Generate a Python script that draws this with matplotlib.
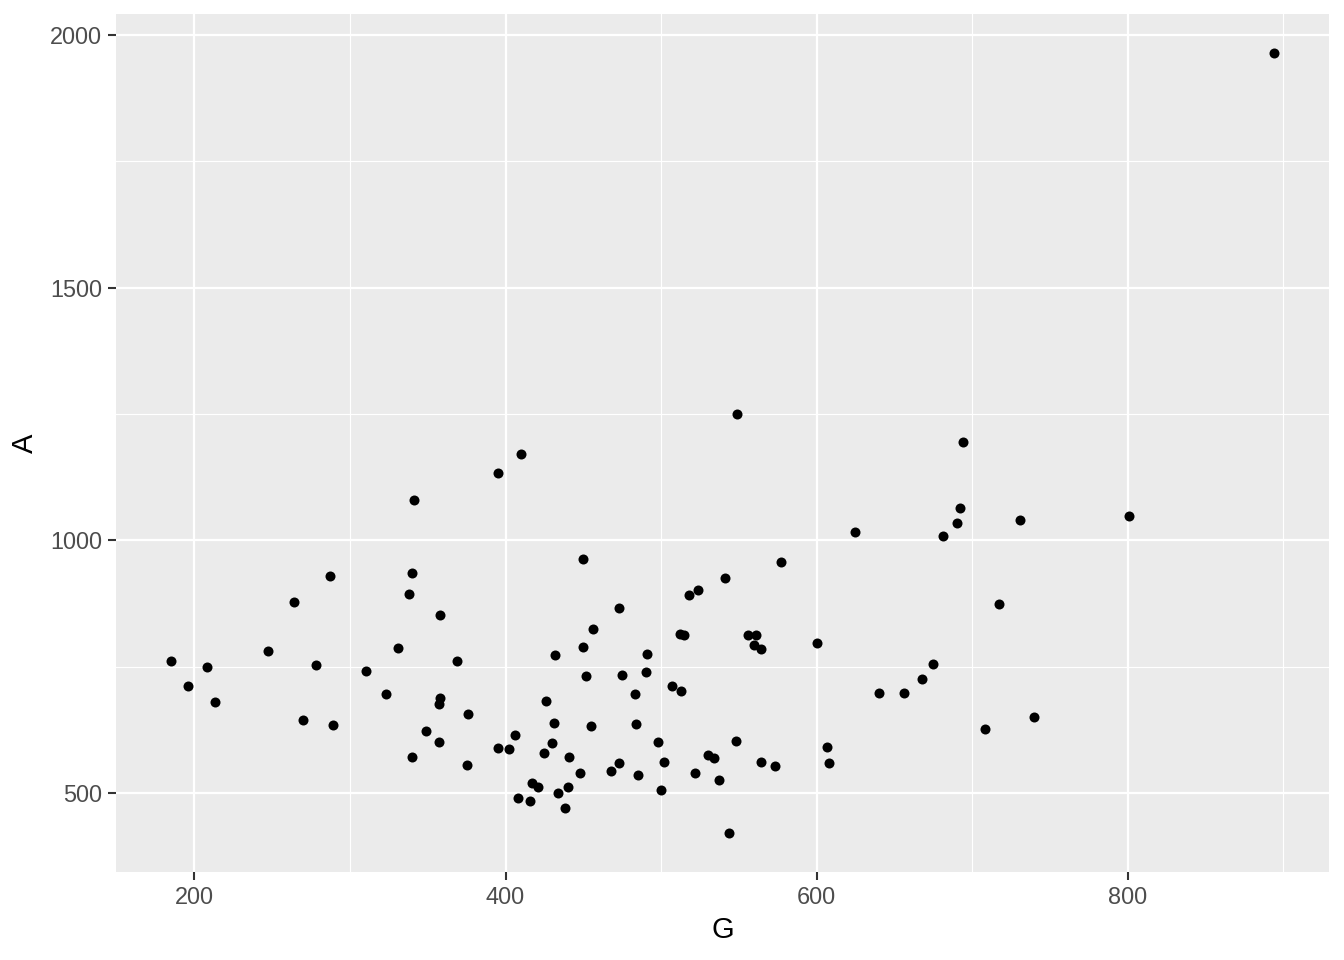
import matplotlib
matplotlib.use('Agg')
import matplotlib.pyplot as plt
import numpy as np

# datos
G = [185, 196, 208, 213, 247, 264, 270, 278, 287, 289,
     310, 323, 331, 341, 340, 338, 358, 369, 358, 357,
     376, 349, 357, 340, 375, 395, 395, 410, 549, 450,
     577, 541, 524, 518, 473, 456, 512, 515, 556, 561,
     560, 564, 600, 450, 432, 491, 452, 475, 490, 507,
     513, 483, 426, 431, 455, 484, 406, 402, 430, 425,
     498, 548, 441, 530, 534, 607, 608, 502, 564, 573,
     473, 468, 485, 448, 522, 537, 417, 421, 440, 434,
     408, 416, 500, 438, 544, 694, 692, 690, 681, 625,
     731, 801, 717, 675, 668, 640, 656, 740, 708, 894]
A = [762, 712, 749, 681, 781, 877, 644, 754, 929, 634,
     741, 696, 787, 1079, 935, 893, 852, 761, 689, 677,
     656, 623, 601, 571, 555, 1134, 589, 1170, 1249, 964,
     957, 925, 901, 891, 866, 824, 814, 812, 812, 812,
     792, 785, 796, 788, 773, 775, 731, 733, 739, 711,
     702, 696, 682, 638, 632, 636, 615, 587, 599, 579,
     601, 603, 571, 575, 569, 591, 559, 561, 561, 553,
     559, 544, 536, 540, 540, 526, 520, 512, 512, 500,
     490, 484, 506, 470, 421, 1194, 1063, 1034, 1008, 1016,
     1040, 1049, 874, 755, 725, 698, 698, 650, 627, 1964]

x_breaks = [200, 400, 600, 800]
x_minor = [300, 500, 700, 900]
y_breaks = [500, 1000, 1500, 2000]
y_minor = [750, 1250, 1750]

plt.rcParams['font.family'] = ['Liberation Sans', 'DejaVu Sans']

fig = plt.figure(figsize=(13.44, 9.6), dpi=100)
ax = fig.add_axes([116/1344, 1 - 872/960, (1329 - 116)/1344, (872 - 14)/960])

ax.set_facecolor('#EBEBEB')
for s in ax.spines.values():
    s.set_visible(False)

# expansion tipo ggplot (5%)
gx = np.array(G); ay = np.array(A)
dx = (gx.max() - gx.min()) * 0.05
dy = (ay.max() - ay.min()) * 0.05
ax.set_xlim(gx.min() - dx, gx.max() + dx)
ax.set_ylim(ay.min() - dy, ay.max() + dy)

for v in x_minor:
    ax.axvline(v, color='white', lw=0.8, zorder=0)
for v in y_minor:
    ax.axhline(v, color='white', lw=0.8, zorder=0)
for v in x_breaks:
    ax.axvline(v, color='white', lw=1.6, zorder=0)
for v in y_breaks:
    ax.axhline(v, color='white', lw=1.6, zorder=0)

ax.scatter(G, A, s=52, color='black', linewidths=0, zorder=3)

ax.set_xticks(x_breaks)
ax.set_yticks(y_breaks)
ax.tick_params(axis='both', length=5.5, width=1.5, color='#333333',
               labelsize=16.9, labelcolor='#4D4D4D', pad=4.5)

ax.set_xlabel('G', fontsize=21, color='black', labelpad=5)
ax.set_ylabel('A', fontsize=21, color='black', labelpad=8)

fig.savefig('out.png', dpi=100)
